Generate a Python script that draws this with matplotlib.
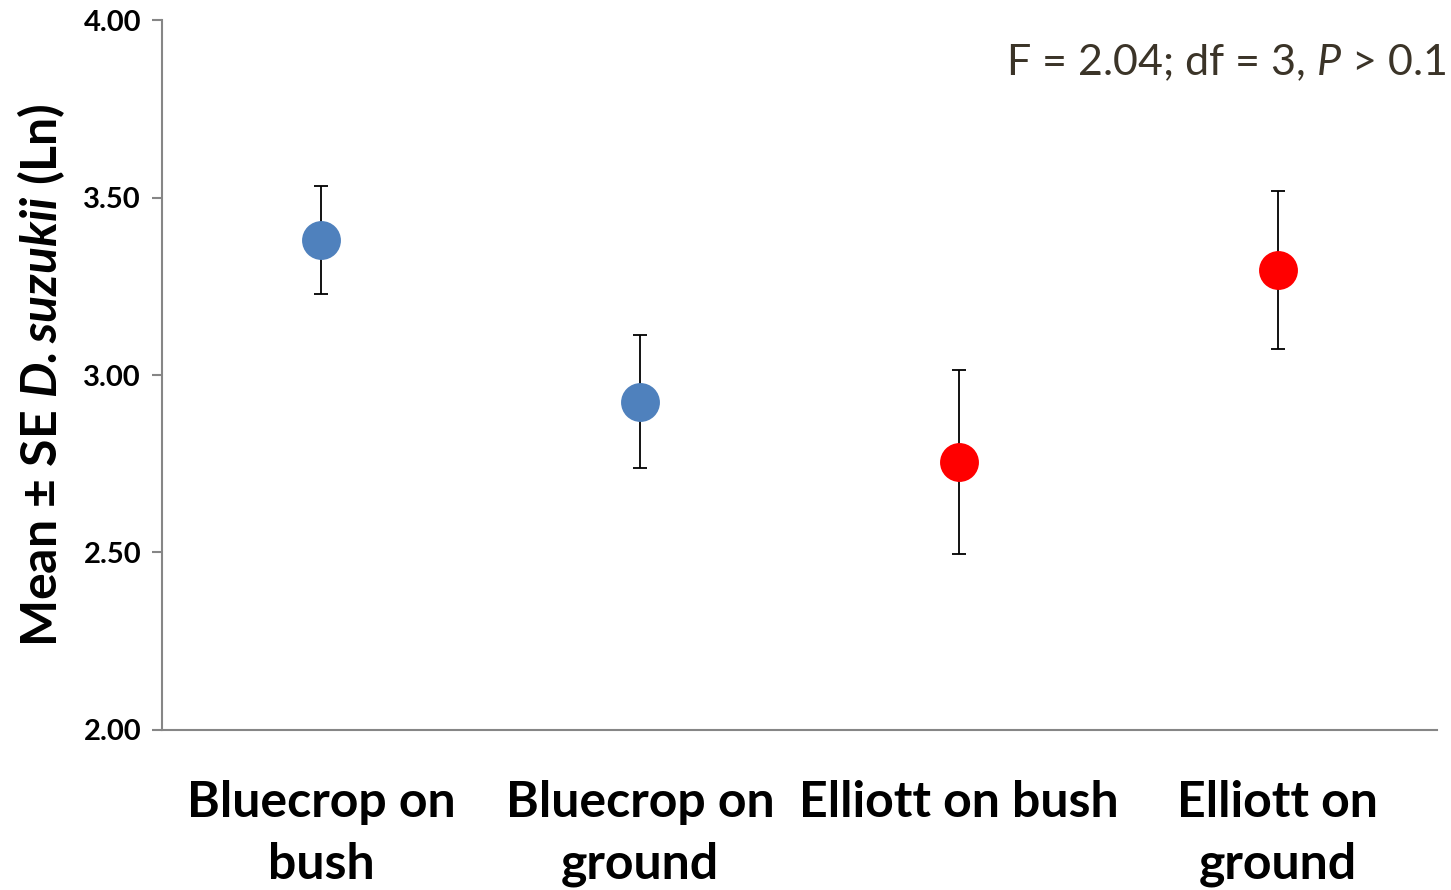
import matplotlib
matplotlib.use("Agg")
import matplotlib.pyplot as plt

# Treatment groups and their log-transformed means with standard errors
categories = ["Bluecrop on\nbush", "Bluecrop on\nground", "Elliott on bush", "Elliott on\nground"]
means = [3.38, 2.925, 2.755, 3.295]
se = [0.152, 0.188, 0.258, 0.222]
colors = ["#4f81bd", "#4f81bd", "#ff0000", "#ff0000"]
yticks = [2.00, 2.50, 3.00, 3.50, 4.00]
stat_text = r"F = 2.04; df = 3, $\mathit{P}$ > 0.1"

plt.rcParams["font.family"] = ["Lato", "DejaVu Sans"]
plt.rcParams["mathtext.fontset"] = "custom"
plt.rcParams["mathtext.it"] = "Lato:italic"
plt.rcParams["mathtext.rm"] = "Lato"
plt.rcParams["mathtext.bf"] = "Lato:bold"
plt.rcParams["mathtext.bfit"] = "Lato:bold:italic"

fig = plt.figure(figsize=(14.51, 8.90), dpi=100)
ax = fig.add_axes([0.1116, 0.1798, 0.8788, 0.7977])

x = list(range(len(categories)))
for xi, m, e, c in zip(x, means, se, colors):
    ax.errorbar(xi, m, yerr=e, fmt="none", ecolor="black", elinewidth=1.3,
                capsize=5, capthick=1.3, zorder=2)
    ax.plot(xi, m, "o", color=c, markersize=28, markeredgewidth=0, zorder=3)

ax.set_xlim(-0.5, 3.5)
ax.set_ylim(2.0, 4.0)
ax.set_yticks(yticks)
ax.set_yticklabels([f"{v:.2f}" for v in yticks], fontsize=21, fontweight="bold")
ax.set_xticks(x)
ax.set_xticklabels(categories, fontsize=36, fontweight="bold", linespacing=1.45)
ax.tick_params(axis="x", length=0, pad=36)
ax.tick_params(axis="y", length=7, width=1.5, color="#868686", pad=8)

for side in ["top", "right"]:
    ax.spines[side].set_visible(False)
for side in ["left", "bottom"]:
    ax.spines[side].set_color("#868686")
    ax.spines[side].set_linewidth(1.5)

ax.set_ylabel(r"Mean ± SE $\mathbfit{D. suzukii}$ (Ln)", fontsize=36,
              fontweight="bold", labelpad=12)

fig.text(0.9966, 0.930, stat_text, fontsize=31, color="#3b3428",
         ha="right", va="center")

fig.savefig("out.png", dpi=100)
